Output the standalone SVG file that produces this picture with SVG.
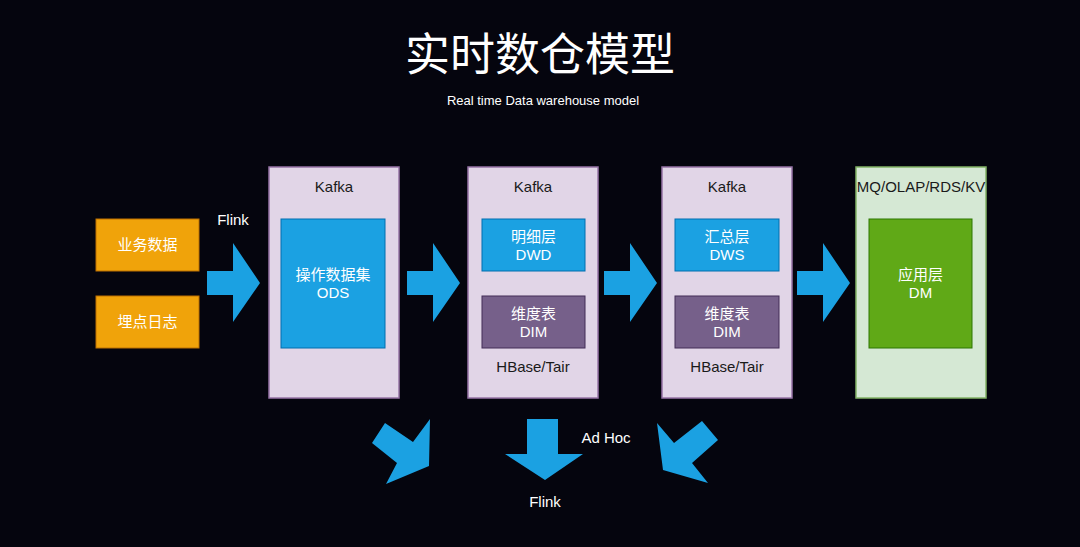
<svg xmlns="http://www.w3.org/2000/svg" width="1080" height="547" viewBox="0 0 1080 547">
<style>
.t{font-family:"Liberation Sans","Noto Sans CJK SC",sans-serif;font-size:15px;text-anchor:middle}
.w{fill:#ffffff}
.d{fill:#1a1a1a}
.cont{fill:#e1d5e7;stroke:#9673a6;stroke-width:1.5}
.green{fill:#d5e8d4;stroke:#82b366;stroke-width:1.5}
.orange{fill:#f0a30a;stroke:#bd7000;stroke-width:1}
.blue{fill:#1ba1e2;stroke:#006eaf;stroke-width:1}
.purple{fill:#76608a;stroke:#432d57;stroke-width:1}
.dm{fill:#60a917;stroke:#2d7600;stroke-width:1}
.arr{fill:#1ba1e2;stroke:none}
</style>
<rect x="0" y="0" width="1080" height="547" fill="#05050e"/>
<text x="540" y="71" font-family="'Noto Sans CJK SC','Liberation Sans',sans-serif" font-size="45" fill="#ffffff" text-anchor="middle">实时数仓模型</text>
<text x="543" y="105" class="t w" style="font-size:13px">Real time Data warehouse model</text>

<g id="src-biz"><rect class="orange" x="96" y="219" width="103" height="52"/><text class="t w" x="147.5" y="250">业务数据</text></g>
<g id="src-log"><rect class="orange" x="96" y="296" width="103" height="52"/><text class="t w" x="147.5" y="327">埋点日志</text></g>

<g id="kafka-ods">
<rect class="cont" x="269" y="167" width="130" height="231"/>
<text class="t d" x="334" y="192">Kafka</text>
<rect class="blue" x="281" y="219" width="104" height="129"/>
<text class="t w" x="333" y="280">操作数据集</text>
<text class="t w" x="333" y="298">ODS</text>
</g>

<g id="kafka-dwd">
<rect class="cont" x="468" y="167" width="130" height="231"/>
<text class="t d" x="533" y="192">Kafka</text>
<rect class="blue" x="482" y="219" width="103" height="52"/>
<text class="t w" x="533.5" y="242">明细层</text>
<text class="t w" x="533.5" y="260">DWD</text>
<rect class="purple" x="482" y="296" width="103" height="52"/>
<text class="t w" x="533.5" y="319">维度表</text>
<text class="t w" x="533.5" y="337">DIM</text>
<text class="t d" x="533" y="372">HBase/Tair</text>
</g>

<g id="kafka-dws">
<rect class="cont" x="662" y="167" width="130" height="231"/>
<text class="t d" x="727" y="192">Kafka</text>
<rect class="blue" x="675" y="219" width="104" height="52"/>
<text class="t w" x="727" y="242">汇总层</text>
<text class="t w" x="727" y="260">DWS</text>
<rect class="purple" x="675" y="296" width="104" height="52"/>
<text class="t w" x="727" y="319">维度表</text>
<text class="t w" x="727" y="337">DIM</text>
<text class="t d" x="727" y="372">HBase/Tair</text>
</g>

<g id="app-dm">
<rect class="green" x="856" y="167" width="130" height="231"/>
<text class="t d" x="921" y="192">MQ/OLAP/RDS/KV</text>
<rect class="dm" x="869" y="219" width="103" height="129"/>
<text class="t w" x="920.5" y="280">应用层</text>
<text class="t w" x="920.5" y="298">DM</text>
</g>

<g id="connectors">
<polygon class="arr" points="207,271 233,271 233,243 260,283 233,322 233,295 207,295"/>
<polygon class="arr" points="407,271 433,271 433,243 460,283 433,322 433,295 407,295"/>
<polygon class="arr" points="604,271 630,271 630,243 657,283 630,322 630,295 604,295"/>
<polygon class="arr" points="797,271 823,271 823,243 850,283 823,322 823,295 797,295"/>
<polygon class="arr" points="385,423 413,442 430,419 429,466 386,484 397,463 372,443"/>
<polygon class="arr" points="527,419 558,419 558,454 583,454 545,480 505,454 527,454"/>
<polygon class="arr" points="702,421 718,440 692,463 708,483 663,470 657,423 674,443"/>
<text class="t w" x="233" y="225">Flink</text>
<text class="t w" x="606" y="443">Ad Hoc</text>
<text class="t w" x="545" y="507">Flink</text>
</g>
</svg>
